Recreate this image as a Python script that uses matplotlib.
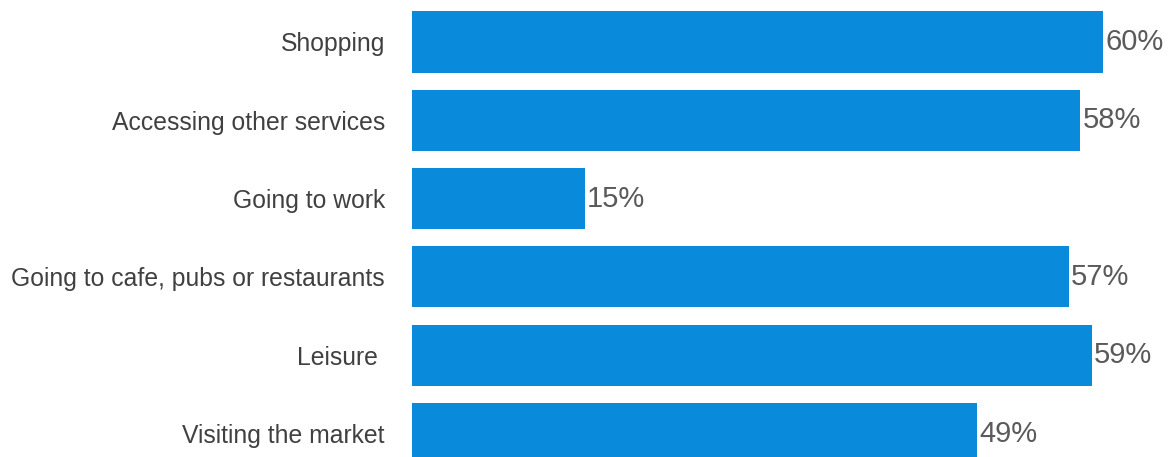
import matplotlib
matplotlib.use("Agg")
import matplotlib.pyplot as plt

categories = ["Shopping", "Accessing other services", "Going to work",
              "Going to cafe, pubs or restaurants", "Leisure ", "Visiting the market"]
values = [60, 58, 15, 57, 59, 49]
value_labels = ["60%", "58%", "15%", "57%", "59%", "49%"]

plt.rcParams['font.family'] = ['Liberation Sans', 'DejaVu Sans']

fig = plt.figure(figsize=(11.76, 4.57), dpi=100)
# axes start where the bars start (x=412px) and run to the right edge
ax = fig.add_axes([412 / 1176, 0, 1 - 412 / 1176, 1])

pos = list(range(len(categories)))
ax.barh(pos, values, height=0.78, color='#0A8ADB')

for p, v, lab in zip(pos, values, value_labels):
    ax.text(v + 0.2, p, lab, va='center', ha='left', fontsize=21, color='#5a5a5a')

ax.set_xlim(0, 66.3)
ax.set_ylim(5.30, -0.536)
ax.set_yticks(pos)
ax.set_yticklabels(categories, fontsize=17.8, color='#404040')
ax.tick_params(axis='y', length=0, pad=19.5)
ax.set_xticks([])
for s in ax.spines.values():
    s.set_visible(False)

fig.savefig("out.png", dpi=100)
